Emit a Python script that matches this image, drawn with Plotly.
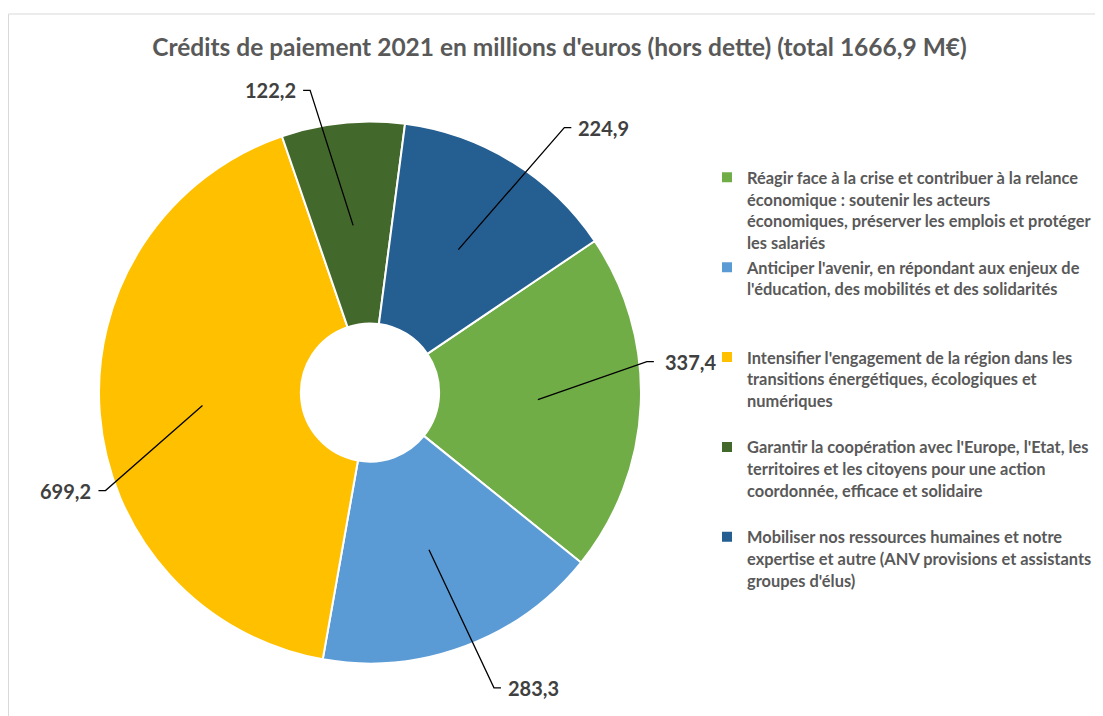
import math
import plotly.graph_objects as go

# ---------------- data ----------------
legend_lines = [
    ["Réagir face à la crise et contribuer à la relance", "économique : soutenir les acteurs",
     "économiques, préserver les emplois et protéger", "les salariés"],
    ["Anticiper l'avenir, en répondant aux enjeux de", "l'éducation, des mobilités et des solidarités"],
    ["Intensifier l'engagement de la région dans les", "transitions énergétiques, écologiques et", "numériques"],
    ["Garantir la coopération avec l'Europe, l'Etat, les", "territoires et les citoyens pour une action",
     "coordonnée, efficace et solidaire"],
    ["Mobiliser nos ressources humaines et notre", "expertise et autre (ANV provisions et assistants",
     "groupes d'élus)"],
]
values = [337.4, 283.3, 699.2, 122.2, 224.9]
value_labels = ["337,4", "283,3", "699,2", "122,2", "224,9"]
title_text = "Crédits de paiement 2021 en millions d'euros (hors dette) (total 1666,9 M€)"

# ---------------- style ----------------
colors = ["#70AD47", "#5B9BD5", "#FFC000", "#43682B", "#255E91"]
W, H = 1103, 716
FONT = "Lato, Carlito, 'Open Sans', sans-serif"
# pie placement (pixels within the figure)
PIE_CX, PIE_CY, PIE_R = 362, 384.5, 271
DOM_X = [(PIE_CX - PIE_R) / W, (PIE_CX + PIE_R) / W]
DOM_Y = [1 - (PIE_CY + PIE_R) / H, 1 - (PIE_CY - PIE_R) / H]
ROTATION = 56
LEADER_R = 0.62
# elbow offsets (px) of each leader line from its anchor inside the slice
label_offsets = [(109, -38), (65, 138), (-97, 85), (-43, -135), (106, -122)]
label_gaps = [9, 5, 5, 5, 5]
TICK = 7
LEGEND_ITEM_LINES = 4

# legend labels (padded so each item occupies the same number of lines)
labels = []
for lines in legend_lines:
    padded = lines + ["\u00a0"] * max(0, LEGEND_ITEM_LINES - len(lines))
    labels.append('<span style="font-size:16.4px">' + "<br>".join(padded) + "</span>")

fig = go.Figure(go.Pie(
    labels=labels,
    values=values,
    sort=False,
    direction="clockwise",
    rotation=ROTATION,
    hole=0.255,
    marker=dict(colors=colors, line=dict(color="white", width=2)),
    textinfo="none",
    hovertemplate="%{value}<extra></extra>",
    domain=dict(x=DOM_X, y=DOM_Y),
))

CX = (DOM_X[0] + DOM_X[1]) / 2 * W
CY = (1 - (DOM_Y[0] + DOM_Y[1]) / 2) * H
R = min((DOM_X[1] - DOM_X[0]) * W, (DOM_Y[1] - DOM_Y[0]) * H) / 2


def px(x):
    return x / W


def py(y):
    return 1 - y / H


total = sum(values)
shapes = []
annotations = []
start = ROTATION
for v, lab, (ox, oy), gap in zip(values, value_labels, label_offsets, label_gaps):
    span = v / total * 360
    mid = math.radians(start + span / 2)
    start += span
    ax = CX + LEADER_R * R * math.sin(mid)
    ay = CY - LEADER_R * R * math.cos(mid)
    ex, ey = ax + ox, ay + oy
    side = 1 if ox >= 0 else -1
    tx = ex + side * TICK
    shapes.append(dict(
        type="path", xref="paper", yref="paper",
        path=f"M {px(ax)},{py(ay)} L {px(ex)},{py(ey)} L {px(tx)},{py(ey)}",
        line=dict(color="black", width=1.3),
    ))
    annotations.append(dict(
        x=px(tx + side * gap), y=py(ey), xref="paper", yref="paper",
        text=lab, showarrow=False,
        xanchor="left" if side > 0 else "right", yanchor="middle",
        font=dict(family=FONT, size=20, color="#404040", weight="bold"),
    ))

# chart area border
shapes.append(dict(type="rect", xref="paper", yref="paper",
                   x0=0.5 / W, y0=1 - 6 / H, x1=1.02, y1=-0.02,
                   line=dict(color="#D9D9D9", width=1), layer="below"))

fig.update_layout(
    width=W, height=H,
    margin=dict(l=0, r=0, t=0, b=0),
    paper_bgcolor="white", plot_bgcolor="white",
    title=dict(text=title_text, x=0.5, xanchor="center", y=1 - 39 / H, yanchor="middle",
               xref="paper", yref="container",
               font=dict(family=FONT, size=24.5, color="#595959", weight="bold")),
    showlegend=True,
    legend=dict(x=699 / W, xanchor="left", y=1 - 152 / H, yanchor="top",
                valign="top", traceorder="normal",
                font=dict(family=FONT, size=16.7, color="#595959", weight="bold"),
                bgcolor="rgba(0,0,0,0)"),
    shapes=shapes,
    annotations=annotations,
)

fig.write_html("out.html")
